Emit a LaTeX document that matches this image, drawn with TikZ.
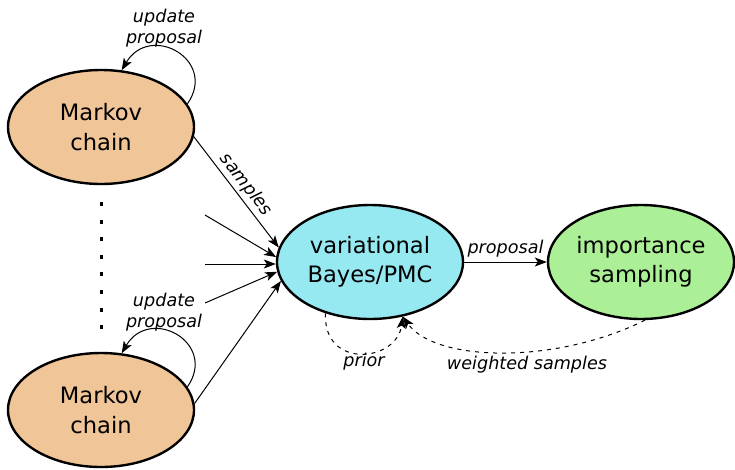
\documentclass[tikz,border=0pt]{standalone}
\usepackage{fontspec}
\setmainfont{DejaVu Sans}
\usetikzlibrary{arrows.meta,shapes.geometric}

\definecolor{chainfill}{HTML}{F0C597}
\definecolor{vbfill}{HTML}{96E9F0}
\definecolor{isfill}{HTML}{ABF096}

\tikzset{
  blob/.style={ellipse, draw=black, line width=2.4pt, minimum width=186pt,
    minimum height=114pt, inner sep=0pt, align=center,
    font=\fontsize{22.6}{29.5}\selectfont},
  lbl/.style={font=\fontsize{17.6}{21.5}\selectfont\itshape, align=center, inner sep=1pt},
  flow/.style={line width=1pt, -{Stealth[length=12pt,width=9pt,inset=3pt]}},
  feedback/.style={flow, dash pattern=on 4pt off 5pt},
}

\begin{document}
\begin{tikzpicture}[x=1pt,y=-1pt]
\useasboundingbox (0,0) rectangle (735,469);

% the three stages
\node[blob, fill=chainfill] (m1) at (101,127) {Markov\\chain};
\node[blob, fill=chainfill] (m2) at (101,410) {Markov\\chain};
\node[blob, fill=vbfill]    (vb) at (370,262) {variational\\Bayes/PMC};
\node[blob, fill=isfill]    (is) at (641,262) {importance\\sampling};

% further chains, elided
\coordinate (d1) at (101,202);
\coordinate (d2) at (101,330);
\draw[line width=3pt, dash pattern=on 4pt off 13.6pt] (d1) -- (d2);

% self-updates of each chain
\draw[flow] (m1.15) .. controls (218,60) and (150,22) .. (m1.70);
\node[lbl] (u1) at (164,28) {update\\proposal};
\draw[flow] (m2.15) .. controls (218,343) and (150,305) .. (m2.70);
\node[lbl] (u2) at (164,312) {update\\proposal};

% samples collected from the chains
\coordinate (c1) at (205,215);
\coordinate (c2) at (205,264);
\coordinate (c3) at (205,303);
\draw[flow] (m1.-6) -- node[lbl, midway, above, sloped, yshift=2pt] {samples} (vb.171);
\draw[flow] (c1) -- (vb.177);
\draw[flow] (c2) -- (c2 -| vb.west);
\draw[flow] (c3) -- (vb.186);
\draw[flow] (m2.4) -- (vb.192);

% proposal handed to importance sampling
\draw[flow] (vb.east) -- node[lbl, above, yshift=3pt] {proposal} (is.west);

% feedback loops
\draw[feedback] (vb.229) .. controls (323,370) and (397,362) .. (vb.301);
\node[lbl] (pr) at (364,362) {prior};
\draw[feedback] (is.-86) .. controls (555,365) and (435,362) .. (vb.301);
\node[lbl] (ws) at (527,365) {weighted samples};
\end{tikzpicture}
\end{document}
